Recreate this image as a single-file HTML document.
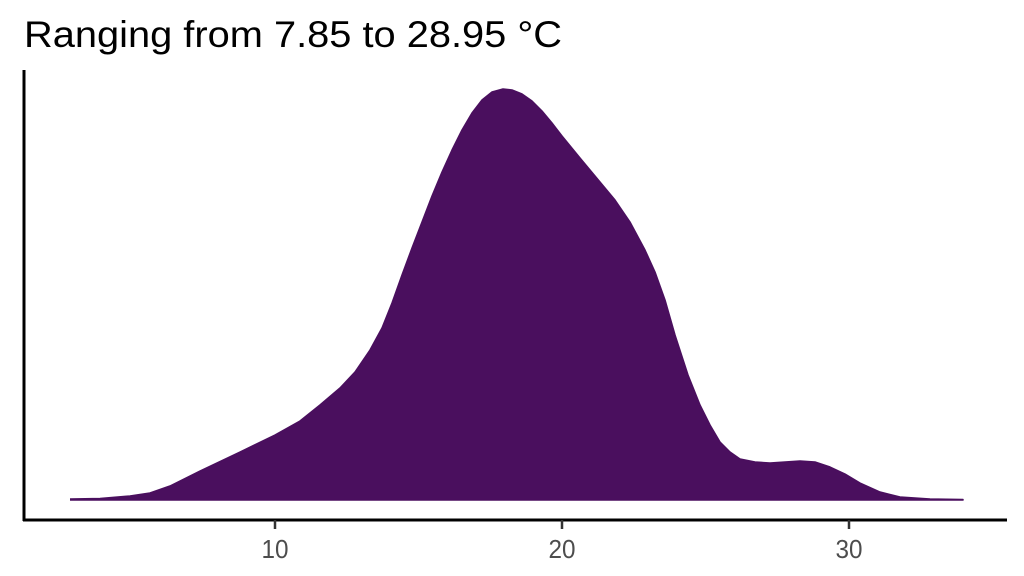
<!DOCTYPE html>
<html><head><style>
body{margin:0;background:#fff;}
svg{display:block;}
</style></head><body>
<svg width="1024" height="576" xmlns="http://www.w3.org/2000/svg">
<rect width="1024" height="576" fill="#fff"/>
<text x="24" y="47" font-family="Liberation Sans, sans-serif" font-size="37" textLength="538" lengthAdjust="spacingAndGlyphs" fill="#000">Ranging from 7.85 to 28.95 °C</text>
<polyline fill="#4a0f5e" stroke="#4a0f5e" stroke-width="1.5" stroke-linejoin="round" points="70,499 100,498.5 130,496 150,493 170,486 200,471 240,452 275,435 300,421 320,405 340,388 355,372 370,350 382,328 392,303 402,275 412,248 422,222 432,196 442,172 452,150 462,130 472,113 482,100 492,92 503,89 512,90 522,94 532,101 542,111 552,123 562,136 580,158 600,182 615,200 630,222 645,250 655,272 665,300 675,335 688,375 700,405 710,425 720,442 730,452 740,459 755,462 770,463 785,462 800,461 815,462 830,467 845,474 860,483 880,492 900,497 930,499 963,499.5 963,500 70,500"/>
<line x1="24" y1="70" x2="24" y2="521" stroke="#000" stroke-width="3"/>
<line x1="23" y1="520" x2="1007" y2="520" stroke="#000" stroke-width="3"/>
<g stroke="#333" stroke-width="2.5">
<line x1="275" y1="520" x2="275" y2="529"/>
<line x1="562" y1="520" x2="562" y2="529"/>
<line x1="849" y1="520" x2="849" y2="529"/>
</g>
<g font-family="Liberation Sans, sans-serif" font-size="26" fill="#4d4d4d" text-anchor="middle">
<text x="275" y="558" textLength="27" lengthAdjust="spacingAndGlyphs">10</text>
<text x="562" y="558" textLength="27" lengthAdjust="spacingAndGlyphs">20</text>
<text x="849" y="558" textLength="27" lengthAdjust="spacingAndGlyphs">30</text>
</g>
</svg>
</body></html>
